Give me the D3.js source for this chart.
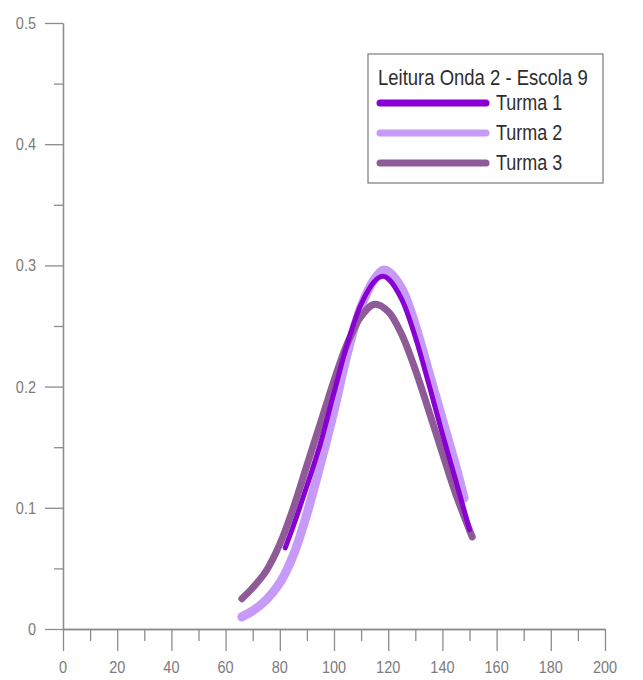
<!DOCTYPE html>
<html>
<head>
<meta charset="utf-8">
<script src="https://cdn.jsdelivr.net/npm/d3@7"></script>
<style>
  html, body { margin: 0; padding: 0; background: #fff; }
  svg { display: block; }
  text { font-family: "Liberation Sans", Arial, sans-serif; }
</style>
</head>
<body>
<svg id="chart" width="643" height="680"></svg>
<script>
// Series: score (x) vs. proportion (y) for each class
const turma1X = [82, 85, 90, 95, 100, 105, 110, 115, 118, 120, 125, 130, 135, 140, 145, 150];
const turma1Y = [0.067, 0.085, 0.118, 0.153, 0.195, 0.236, 0.268, 0.287, 0.291, 0.289, 0.272, 0.241, 0.202, 0.161, 0.122, 0.082];

const turma2X = [66, 70, 75, 80, 85, 90, 95, 100, 105, 110, 115, 118, 120, 125, 130, 135, 140, 145, 148];
const turma2Y = [0.010, 0.015, 0.024, 0.038, 0.061, 0.095, 0.136, 0.180, 0.228, 0.266, 0.289, 0.296, 0.295, 0.281, 0.251, 0.212, 0.173, 0.134, 0.108];

const turma3X = [66, 70, 75, 80, 85, 90, 95, 100, 105, 110, 115, 120, 125, 130, 135, 140, 145, 151];
const turma3Y = [0.025, 0.034, 0.048, 0.070, 0.100, 0.135, 0.170, 0.205, 0.236, 0.258, 0.268, 0.262, 0.243, 0.214, 0.180, 0.145, 0.111, 0.076];

const seriesNames = ["Turma 1", "Turma 2", "Turma 3"];
const seriesColors = ["#8800d2", "#c79af8", "#8e5a97"];
const seriesWidths = [5, 9, 7];
const legendTitle = "Leitura Onda 2 - Escola 9";

const xMajorTicks = [0, 20, 40, 60, 80, 100, 120, 140, 160, 180, 200];
const xMinorTicks = [10, 30, 50, 70, 90, 110, 130, 150, 170, 190];
const yMajorTicks = [0, 0.1, 0.2, 0.3, 0.4, 0.5];
const yMinorTicks = [0.05, 0.15, 0.25, 0.35, 0.45];
const yTickLabels = ["0", "0.1", "0.2", "0.3", "0.4", "0.5"];

const svg = d3.select("#chart");
const axisColor = "#8c8c8c";
const labelColor = "#7c7c7c";
const textStretch = 1.2;

const x = d3.scaleLinear().domain([0, 200]).range([63, 605]);
const y = d3.scaleLinear().domain([0, 0.5]).range([629, 23]);

// Axes: long major ticks, short minor ticks, labels drawn separately
function styleAxis(g) {
  g.selectAll("path, line").attr("stroke", axisColor).attr("stroke-width", 1.3);
  g.selectAll("text").remove();
}

svg.append("g").attr("transform", `translate(0,${y(0)})`)
  .call(d3.axisBottom(x).tickValues(xMajorTicks).tickSize(22).tickSizeOuter(0))
  .call(styleAxis);
svg.append("g").attr("transform", `translate(0,${y(0)})`)
  .call(d3.axisBottom(x).tickValues(xMinorTicks).tickSize(12).tickSizeOuter(0))
  .call(styleAxis);
svg.append("g").attr("transform", `translate(${x(0)},0)`)
  .call(d3.axisLeft(y).tickValues(yMajorTicks).tickSize(18).tickSizeOuter(0))
  .call(styleAxis);
svg.append("g").attr("transform", `translate(${x(0)},0)`)
  .call(d3.axisLeft(y).tickValues(yMinorTicks).tickSize(9).tickSizeOuter(0))
  .call(styleAxis);

// Tick labels
svg.append("g").selectAll("text").data(xMajorTicks).join("text")
  .attr("transform", d => `translate(${x(d)},${y(0) + 44}) scale(1,${textStretch})`)
  .attr("text-anchor", "middle")
  .attr("font-size", 14.5)
  .attr("fill", labelColor)
  .text(d => d);

svg.append("g").selectAll("text").data(yMajorTicks).join("text")
  .attr("transform", d => `translate(36,${y(d) + 6}) scale(1,${textStretch})`)
  .attr("text-anchor", "end")
  .attr("font-size", 14.5)
  .attr("fill", labelColor)
  .text((d, i) => yTickLabels[i]);

// Curves
const series = [
  { xs: turma1X, ys: turma1Y },
  { xs: turma2X, ys: turma2Y },
  { xs: turma3X, ys: turma3Y }
].map((s, i) => ({
  name: seriesNames[i],
  color: seriesColors[i],
  width: seriesWidths[i],
  points: s.xs.map((v, j) => [v, s.ys[j]])
}));

const line = d3.line()
  .x(d => x(d[0]))
  .y(d => y(d[1]))
  .curve(d3.curveCatmullRom.alpha(0.5));

const drawOrder = [1, 2, 0];
svg.append("g").selectAll("path").data(drawOrder.map(i => series[i])).join("path")
  .attr("d", d => line(d.points))
  .attr("fill", "none")
  .attr("stroke", d => d.color)
  .attr("stroke-width", d => d.width)
  .attr("stroke-linecap", "round")
  .attr("stroke-linejoin", "round");

// Legend
const legend = svg.append("g");
legend.append("rect")
  .attr("x", 368).attr("y", 54)
  .attr("width", 235).attr("height", 129)
  .attr("fill", "#fff")
  .attr("stroke", "#7a7a7a")
  .attr("stroke-width", 1.2);

legend.append("text")
  .attr("transform", `translate(378,85) scale(1,${textStretch})`)
  .attr("font-size", 18.5)
  .attr("fill", "#2e2e2e")
  .text(legendTitle);

const legendRows = legend.selectAll("g.row").data(series).join("g")
  .attr("class", "row")
  .attr("transform", (d, i) => `translate(0,${103 + i * 30})`);

legendRows.append("line")
  .attr("x1", 380).attr("x2", 486)
  .attr("y1", 0).attr("y2", 0)
  .attr("stroke", d => d.color)
  .attr("stroke-width", 7)
  .attr("stroke-linecap", "round");

legendRows.append("text")
  .attr("transform", `translate(496,7) scale(1,${textStretch})`)
  .attr("font-size", 18)
  .attr("fill", "#2e2e2e")
  .text(d => d.name);
</script>
</body>
</html>
